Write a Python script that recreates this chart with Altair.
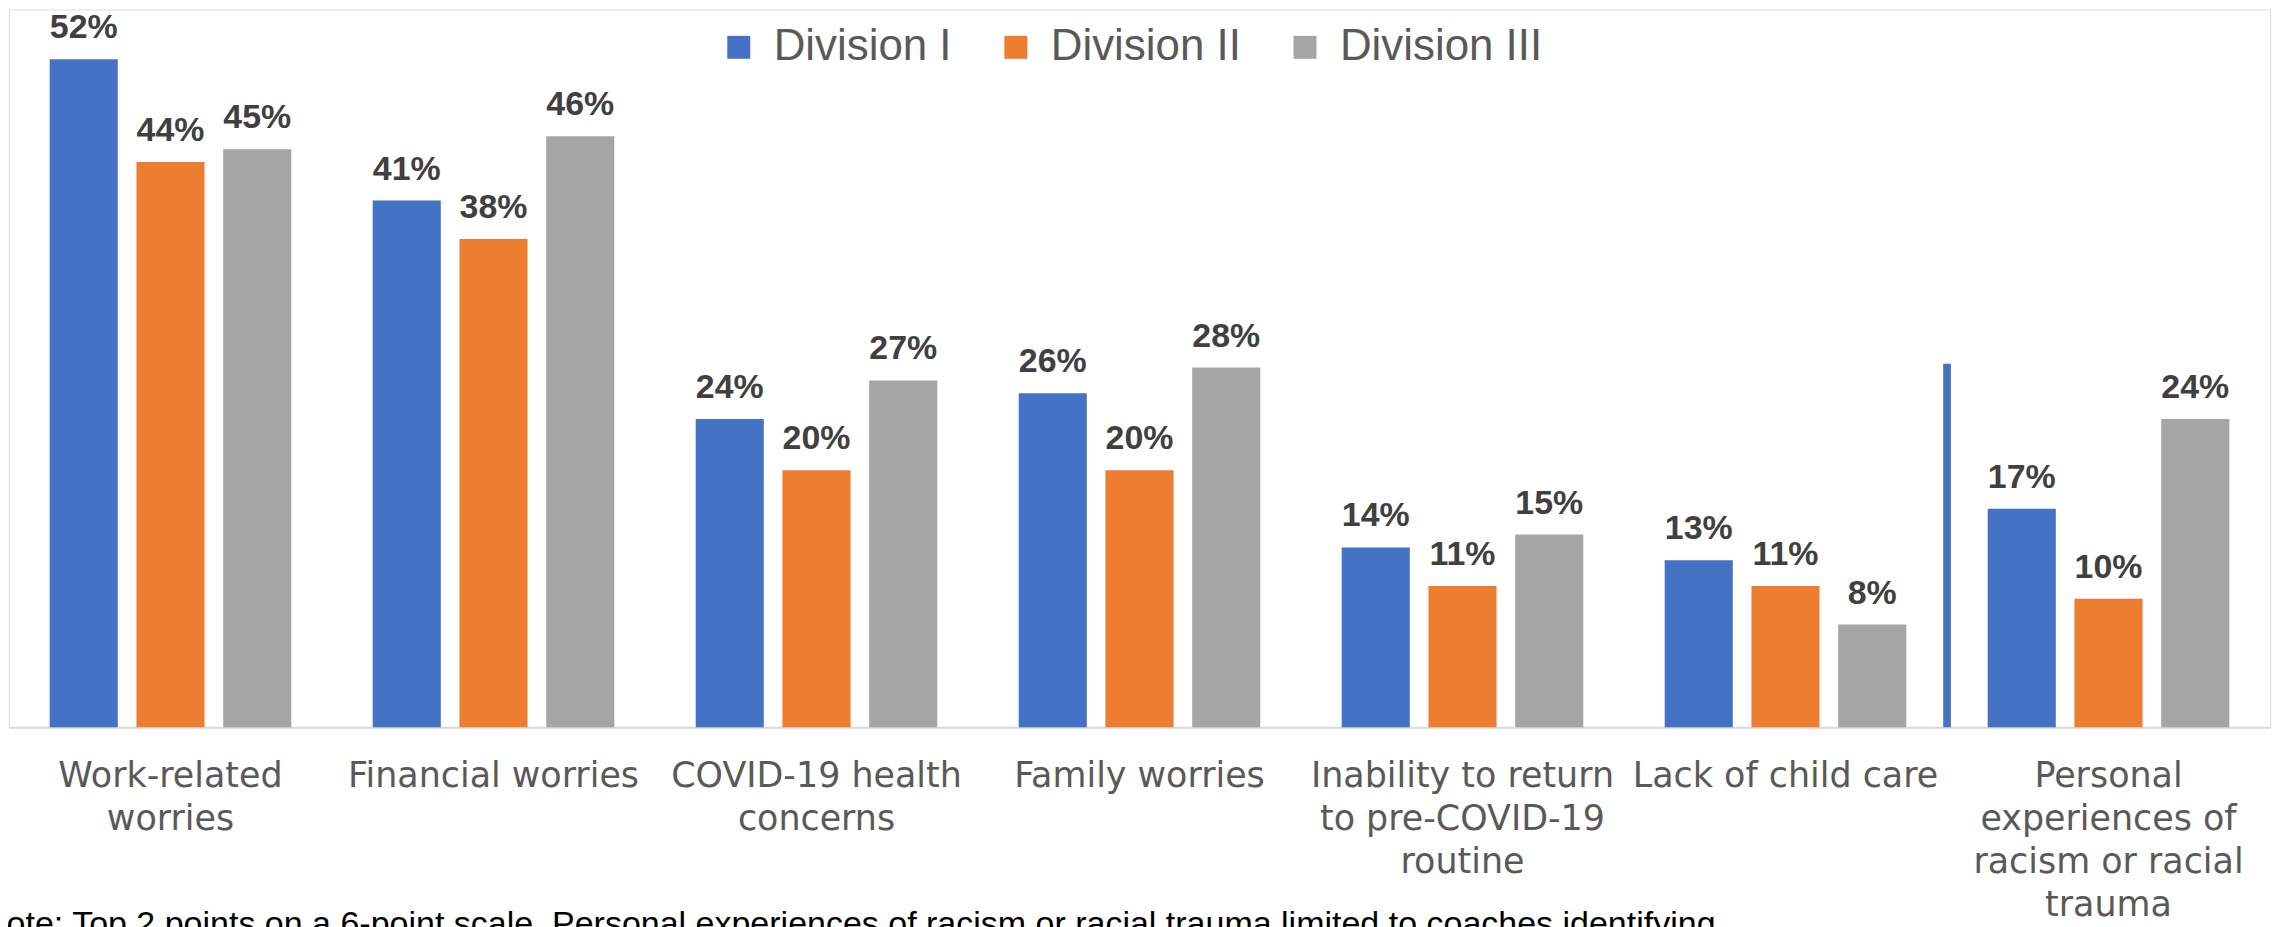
import altair as alt
import pandas as pd

categories = [
    "Work-related|worries",
    "Financial worries",
    "COVID-19 health|concerns",
    "Family worries",
    "Inability to return|to pre-COVID-19|routine",
    "Lack of child care",
    "Personal|experiences of|racism or racial|trauma",
]
divisions = ["Division I", "Division II", "Division III"]
division_1 = [52, 41, 24, 26, 14, 13, 17]
division_2 = [44, 38, 20, 20, 11, 11, 10]
division_3 = [45, 46, 27, 28, 15, 8, 24]
colors = ["#4472C4", "#ED7D31", "#A5A5A5"]
separator_category = ["Personal|experiences of|racism or racial|trauma"]
separator_top = [28.3]
note = ("Note: Top 2 points on a 6-point scale. Personal experiences of racism or "
        "racial trauma limited to coaches identifying")

rows = []
for series, vals in zip(divisions, [division_1, division_2, division_3]):
    for c, v in zip(categories, vals):
        rows.append({"cat": c, "division": series, "value": v})
df = pd.DataFrame(rows)

xscale = alt.Scale(paddingInner=0.252, paddingOuter=0.126)
yscale = alt.Scale(domain=[0, 55.88], nice=False, zero=True)

x_enc = alt.X(
    "cat:N", sort=categories, scale=xscale, title=None,
    axis=alt.Axis(
        labelExpr="split(datum.label, '|')", labelAngle=0, ticks=False, tickSize=0,
        domainColor="#D9D9D9", domainWidth=2, labelFont="DejaVu Sans",
        labelFontSize=35, labelColor="#595959", labelLineHeight=43.3,
        labelBaseline="alphabetic", labelPadding=59, labelLimit=1000,
        labelOverlap=False, labelAlign="center", grid=False,
    ),
)
xoff = alt.XOffset("division:N", sort=divisions,
                   scale=alt.Scale(paddingInner=0.215, paddingOuter=0))
y_enc = alt.Y("value:Q", scale=yscale, axis=None)

bars = alt.Chart(df).mark_bar().encode(
    x=x_enc, xOffset=xoff, y=y_enc,
    color=alt.Color(
        "division:N", sort=divisions,
        scale=alt.Scale(domain=divisions, range=colors),
        legend=alt.Legend(
            orient="none", legendX=710, legendY=16, direction="horizontal",
            title=None, symbolType="square", symbolSize=529,
            symbolStrokeWidth=0, symbolOpacity=1,
            labelFont="Liberation Sans", labelFontSize=44, labelColor="#595959",
            labelOffset=13, columnPadding=42, labelLimit=500,
        ),
    ),
)

labels = alt.Chart(df).mark_text(
    baseline="alphabetic", dy=-21, font="Liberation Sans", fontWeight="bold",
    fontSize=34, color="#404040",
).transform_calculate(label="datum.value + '%'").encode(
    x=alt.X("cat:N", sort=categories, scale=xscale), xOffset=xoff, y=y_enc,
    text="label:N",
)

sep_df = pd.DataFrame({"cat": separator_category, "top": separator_top})
separator = alt.Chart(sep_df).mark_rule(
    color="#4472C4", strokeWidth=7.7, xOffset=-40.8
).encode(
    x=alt.X("cat:N", sort=categories, scale=xscale, bandPosition=0),
    y=alt.Y("top:Q", scale=yscale),
    y2=alt.datum(0),
)

note_layer = alt.Chart(pd.DataFrame({"t": [note]})).mark_text(
    align="left", baseline="alphabetic", font="Liberation Sans", fontSize=34.1,
    color="#000000",
).encode(x=alt.value(-27), y=alt.value(928.6), text="t:N")

chart = alt.layer(bars, labels, separator, note_layer).properties(
    width=2268, height=720,
    autosize=alt.AutoSizeParams(type="none"),
    padding={"left": 1, "top": 0, "right": 2, "bottom": 212},
).configure_view(stroke=None).configure(background="white")

chart.save("out.html", embed_options={"renderer": "svg", "actions": False})
